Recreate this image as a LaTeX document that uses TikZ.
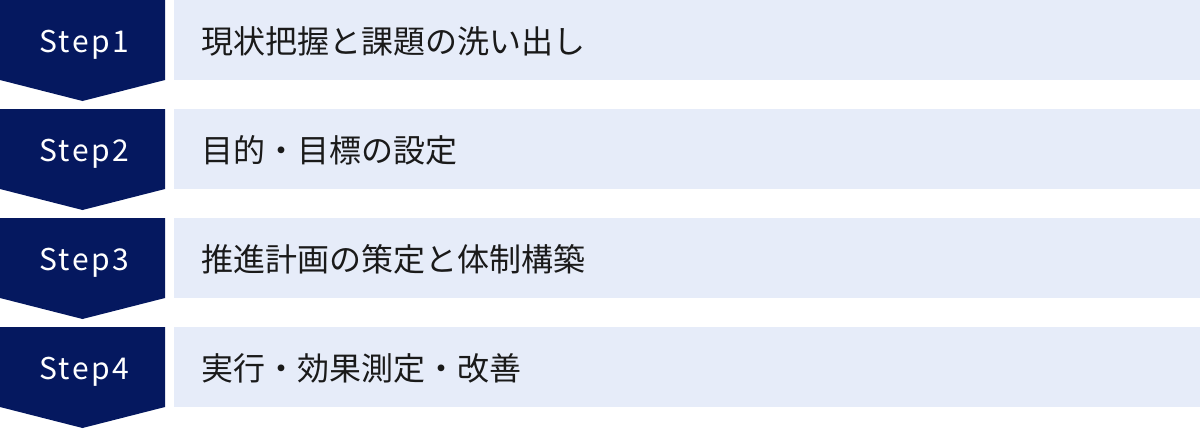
\documentclass[tikz,border=0pt]{standalone}
\usepackage{fontspec}
\setmainfont{Noto Sans}
\newfontfamily\jpfont{Noto Sans CJK JP}
\definecolor{navy}{HTML}{05185F}
\definecolor{paleblue}{HTML}{E6ECF9}
\definecolor{ink}{HTML}{1A1A1A}
\tikzset{
  steptag/.style={text=white,inner sep=0pt,anchor=base,
    font=\jpfont\fontsize{30}{30}\selectfont\addfontfeature{LetterSpace=8}},
  stepdesc/.style={text=ink,inner sep=0pt,anchor=base west,
    font=\jpfont\fontsize{32}{32}\selectfont},
}
\begin{document}
\begin{tikzpicture}[x=1pt,y=-1pt]
  \useasboundingbox (0,0) rectangle (1200,429);
%  \draw[red] (0,0) rectangle (1200,429);
  \fill[navy] (0,0) -- (165,0) -- (165,80) -- (82.5,101) -- (0,80) -- cycle;
  \fill[navy] (0,109) -- (165,109) -- (165,189) -- (82.5,210) -- (0,189) -- cycle;
  \fill[navy] (0,218) -- (165,218) -- (165,298) -- (82.5,319) -- (0,298) -- cycle;
  \fill[navy] (0,327) -- (165,327) -- (165,407) -- (82.5,428) -- (0,407) -- cycle;
  \fill[paleblue] (174,0) rectangle (1200,80);
  \fill[paleblue] (174,109) rectangle (1200,189);
  \fill[paleblue] (174,218) rectangle (1200,298);
  \fill[paleblue] (174,327) rectangle (1200,407);
  \node[steptag] (tag1) at (84,52) {Step1};
  \node[steptag] (tag2) at (84,161) {Step2};
  \node[steptag] (tag3) at (84,270) {Step3};
  \node[steptag] (tag4) at (84,379) {Step4};
  \node[stepdesc] (desc1) at (201,53) {現状把握と課題の洗い出し};
  \node[stepdesc] (desc2) at (201,162) {目的・目標の設定};
  \node[stepdesc] (desc3) at (201,271) {推進計画の策定と体制構築};
  \node[stepdesc] (desc4) at (201,380) {実行・効果測定・改善};
\end{tikzpicture}
\end{document}
